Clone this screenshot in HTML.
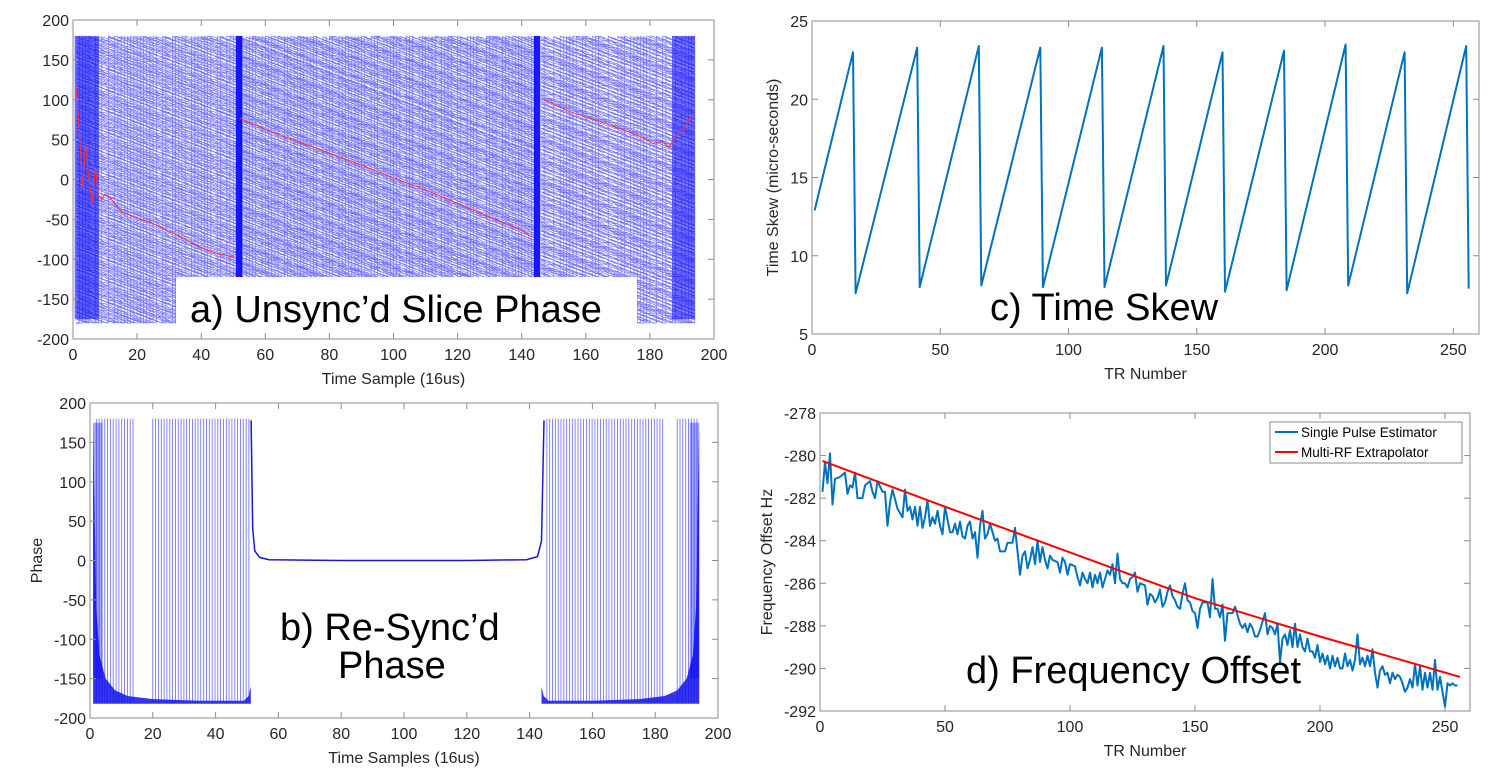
<!DOCTYPE html>
<html><head><meta charset="utf-8">
<style>
html,body{margin:0;padding:0;background:#fff;}
svg{display:block;font-family:"Liberation Sans",sans-serif;}
</style></head>
<body>
<svg id="fig" width="1500" height="776" viewBox="0 0 1500 776" xmlns="http://www.w3.org/2000/svg">
<rect width="1500" height="776" fill="#fff"/>
</svg>
<script>
// ---------- data ----------
const redAX1=[1,2,3,4,5,6,7,8,9,10,12,15,20,25,30,35,40,45,50];
const redAY1=[115,60,-10,45,0,-30,15,-20,-25,-18,-25,-40,-48,-55,-65,-75,-85,-93,-97];
const redAX2=[52,60,70,80,90,100,110,120,130,140,143];
const redAY2=[77,63,48,33,18,2,-13,-30,-47,-64,-72];
const redAX3=[147,155,165,172,178,181,184,186,188,190,193];
const redAY3=[100,85,72,62,52,45,48,40,55,60,80];
const segStartA=[1,52,146];
const segEndA=[51,144,194];
const segSlopeA=[-1.6,-1.64,-1.6];
const lineCountA=[230,260,230];
const trC=[1,16,17,41,42,65,66,89,90,113,114,137,138,160,161,184,185,208,209,231,232,255,256];
const skewC=[12.9,23.0,7.6,23.3,8.0,23.4,8.1,23.3,8.0,23.3,8.0,23.4,8.1,23.0,7.7,23.1,7.8,23.5,8.1,23.0,7.6,23.4,7.9];
const xTicksC=[0,50,100,150,200,250];
const yTicksC=[5,10,15,20,25];
const trD=[1,2,3,4,5,6,8,10,11,12,13,14,15,17,18,20,21,22,23,25,26,27,28,29,31,33,34,35,36,37,38,39,40,41,42,43,44,45,46,47,48,49,50,52,53,54,55,56,57,58,59,60,61,62,63,64,65,66,67,68,69,70,71,72,74,75,77,78,79,80,81,82,83,84,85,86,87,88,89,90,91,92,93,95,96,97,98,99,100,102,103,104,105,106,107,108,109,110,111,112,113,115,116,117,118,119,120,121,122,123,124,125,126,127,128,130,131,132,133,134,135,136,137,138,139,140,141,142,143,144,145,146,147,148,149,150,151,152,153,155,156,157,158,159,160,161,162,163,164,165,166,167,168,169,170,171,172,173,174,175,176,177,178,179,180,181,182,183,184,185,186,187,188,189,190,191,192,193,194,195,196,197,198,199,200,201,202,203,204,205,206,207,208,209,210,211,212,213,214,215,216,217,218,219,220,221,222,223,224,225,226,227,228,229,230,231,232,233,234,235,236,237,238,239,240,241,242,243,244,245,246,247,248,249,250,251,252,253,254,255];
const freqD=[-281.7,-280.3,-281.3,-279.9,-282.3,-281.1,-281.0,-280.8,-281.8,-281.4,-281.5,-280.8,-282.0,-282.0,-281.4,-281.2,-281.7,-282.0,-281.2,-281.7,-281.7,-283.3,-282.2,-281.6,-282.5,-282.9,-281.6,-282.6,-282.4,-283.0,-282.4,-283.3,-282.4,-283.4,-282.9,-282.1,-283.3,-282.9,-283.2,-282.6,-283.3,-283.7,-282.4,-283.6,-283.6,-283.2,-283.7,-283.1,-283.8,-283.9,-283.3,-283.1,-283.9,-283.6,-284.8,-283.3,-282.6,-283.9,-283.7,-283.2,-283.6,-284.0,-283.9,-284.5,-284.5,-284.1,-284.1,-283.4,-284.5,-285.6,-284.7,-284.5,-285.3,-284.9,-284.3,-285.1,-284.0,-285.0,-284.3,-284.9,-285.3,-284.7,-284.9,-285.0,-285.5,-284.8,-285.0,-285.6,-285.1,-285.2,-285.7,-286.1,-285.5,-285.8,-286.0,-285.5,-286.2,-285.6,-286.0,-285.5,-286.2,-285.4,-285.6,-285.1,-286.0,-284.6,-285.8,-286.0,-286.0,-286.2,-285.8,-285.7,-285.5,-286.4,-286.0,-286.1,-287.0,-286.5,-286.6,-286.9,-286.7,-286.3,-287.1,-286.9,-286.4,-286.1,-286.6,-286.8,-287.1,-287.2,-286.5,-286.0,-286.8,-286.9,-287.3,-287.4,-288.1,-287.2,-286.9,-286.9,-287.6,-285.8,-287.2,-287.2,-287.6,-287.0,-288.7,-287.4,-287.4,-287.4,-287.1,-287.5,-287.9,-288.1,-287.9,-288.3,-287.9,-288.1,-288.5,-288.5,-288.2,-287.8,-287.4,-288.4,-288.0,-288.1,-288.4,-287.9,-289.7,-288.6,-288.4,-288.9,-288.2,-289.0,-287.9,-289.0,-288.4,-289.0,-289.2,-288.6,-289.2,-289.2,-289.5,-288.9,-289.7,-289.3,-289.8,-289.4,-290.0,-289.4,-289.9,-289.5,-290.0,-290.0,-289.3,-289.9,-289.6,-290.1,-289.6,-288.4,-289.8,-289.5,-289.9,-289.4,-289.9,-289.1,-290.2,-290.9,-290.1,-289.9,-290.3,-290.2,-290.7,-290.2,-290.5,-290.3,-290.4,-290.7,-291.1,-290.9,-290.5,-290.9,-289.8,-290.8,-289.9,-291.0,-290.2,-290.9,-290.2,-291.0,-289.6,-291.0,-290.4,-291.1,-291.8,-290.7,-290.8,-290.7,-290.8,-290.8];
const trR=[1,50,100,150,200,256];
const freqR=[-280.25,-282.4,-284.55,-286.7,-288.5,-290.4];
const xTicksD=[0,50,100,150,200,250];
const yTicksD=[-292,-290,-288,-286,-284,-282,-280,-278];
const xTicksAB=[0,20,40,60,80,100,120,140,160,180,200];
const yTicksAB=[-200,-150,-100,-50,0,50,100,150,200];

// ---------- helpers ----------
const NS='http://www.w3.org/2000/svg';
const fig=document.getElementById('fig');
function el(tag,attrs,parent){const e=document.createElementNS(NS,tag);for(const k in attrs)e.setAttribute(k,attrs[k]);(parent||fig).appendChild(e);return e;}
function scale(d0,d1,r0,r1){return v=>r0+(v-d0)/(d1-d0)*(r1-r0);}
function pathFrom(xs,ys,sx,sy){let d='';for(let i=0;i<xs.length;i++)d+=(i?'L':'M')+sx(xs[i]).toFixed(1)+' '+sy(ys[i]).toFixed(1);return d;}

function axes(name,L,R,T,B,sx,sy,xt,yt,xlab,ylab,ylx){
  const g=el('g',{});
  
  
  const fr=el('rect',{x:L,y:T,width:R-L,height:B-T,fill:'none',stroke:'#8c8c8c','stroke-width':1},g);
  
  
  xt.forEach(v=>{const x=sx(v);
    el('line',{x1:x,x2:x,y1:B,y2:B-6,stroke:'#8c8c8c'},g);
    el('line',{x1:x,x2:x,y1:T,y2:T+6,stroke:'#8c8c8c'},g);
    const t=el('text',{x:x,y:B+21,'text-anchor':'middle','font-size':16,fill:'#262626'},g);
    t.textContent=v;
    
    
  });
  yt.forEach(v=>{const y=sy(v);
    el('line',{x1:L,x2:L+6,y1:y,y2:y,stroke:'#8c8c8c'},g);
    el('line',{x1:R,x2:R-6,y1:y,y2:y,stroke:'#8c8c8c'},g);
    const t=el('text',{x:L-4,y:y+6,'text-anchor':'end','font-size':16,fill:'#262626'},g);
    t.textContent=v;
    
    
  });
  if(xlab){const t=el('text',{x:(L+R)/2,y:B+45,'text-anchor':'middle','font-size':16,fill:'#262626'},g);t.textContent=xlab;
    
    }
  if(ylab){const cy=(T+B)/2;const t=el('text',{x:ylx,y:cy,'text-anchor':'middle','font-size':16,fill:'#262626',transform:`rotate(-90 ${ylx} ${cy})`},g);t.textContent=ylab;
    
    }
  return g;
}
function bigLabel(name,txt,x,y,size){const t=el('text',{x:x,y:y,'font-size':size,fill:'#000'});t.textContent=txt;
  
  return t;}

// ---------- panel a ----------
(function(){
  const L=73,R=714,T=20,B=339;
  const sx=scale(0,200,L,R), sy=scale(-200,200,B,T);
  const g=el('g',{});
  
  
  const jit=[0.3,-0.7,0.5,0.1,-0.4,0.8,-0.2,0.6,-0.9,0.2,0.4,-0.5,0.7,-0.1,-0.6,0.9,-0.3];
  let d='';
  for(let s=0;s<segStartA.length;s++){
    const n=lineCountA[s];
    for(let k=0;k<n;k++){
      let ph=-180+360*k/n+jit[k%17]*4;
      let x=segStartA[s];
      d+='M'+sx(x).toFixed(1)+' '+sy(ph).toFixed(1);
      while(x<segEndA[s]){
        const nx=Math.min(segEndA[s],x+1);
        let np=ph+segSlopeA[s]*(nx-x)+jit[(k+Math.round(nx))%17]*1.5;
        if(np<-180){np+=360;d+='L'+sx(nx).toFixed(1)+' '+sy(-180).toFixed(1)+'L'+sx(nx).toFixed(1)+' '+sy(180).toFixed(1);}
        d+='L'+sx(nx).toFixed(1)+' '+sy(np).toFixed(1);
        x=nx;ph=np;
      }
    }
  }
  el('path',{d:d,fill:'none',stroke:'rgba(0,0,255,0.55)','stroke-width':0.7},g);
  [[0.5,8,0.55],[187,194,0.5],[50.8,52.8,0.9],[143.8,145.8,0.9]].forEach(b=>{
    const r=el('rect',{x:sx(b[0]),y:sy(180),width:sx(b[1])-sx(b[0]),height:sy(-175)-sy(180),fill:'#0000ff','fill-opacity':b[2]},g);
    
    
  });
  [[redAX1,redAY1],[redAX2,redAY2],[redAX3,redAY3]].forEach(p=>{
    const r=el('path',{d:pathFrom(p[0],p[1],sx,sy),fill:'none',stroke:'#ff3030','stroke-width':1});
    
    
  });
  axes('panel-a',L,R,T,B,sx,sy,xTicksAB,yTicksAB,'Time Sample (16us)',null,0);
  const box=el('rect',{x:176,y:277,width:461,height:47,fill:'#fff'});
  
  
  bigLabel('panel-a-title',"a) Unsync’d Slice Phase",190,322,38);
})();

// ---------- panel b ----------
(function(){
  const L=90,R=718,T=403,B=718;
  const sx=scale(0,200,L,R), sy=scale(-200,200,B,T);
  const g=el('g',{});
  
  
  let d='';
  const regions=[[2,14.5],[20,51],[145.5,183],[187,193.5]];
  regions.forEach(r=>{for(let x=r[0];x<=r[1];x+=0.9){d+='M'+sx(x).toFixed(1)+' '+sy(-180).toFixed(1)+'V'+sy(180).toFixed(1);}});
  el('path',{d:d,fill:'none',stroke:'rgba(40,40,255,0.7)','stroke-width':0.8},g);
  const bandL=[[1,175],[2,-60],[3,-120],[5,-150],[8,-165],[12,-172],[20,-176],[35,-178],[49,-178],[50.5,-172],[51.2,-160],[51.2,-182],[1,-182]];
  const bandR=bandL.map(p=>[195-p[0],p[1]]);
  [bandL,bandR].forEach(b=>{
    const p=el('path',{d:pathFrom(b.map(q=>q[0]),b.map(q=>q[1]),sx,sy)+'Z',fill:'#1010ee','fill-opacity':0.85},g);
    
    
  });
  [[1,4],[191,194]].forEach(b=>{el('rect',{x:sx(b[0]),y:sy(175),width:sx(b[1])-sx(b[0]),height:sy(-150)-sy(175),fill:'#0000ff','fill-opacity':0.35},g);});
  const mx=[51.3,51.8,52.5,54,57,80,120,139,142.5,143.8,144.6], my=[178,40,12,4,1,0,0,1,5,25,178];
  const m=el('path',{d:pathFrom(mx,my,sx,sy),fill:'none',stroke:'#1a1acc','stroke-width':1.5},g);
  
  
  axes('panel-b',L,R,T,B,sx,sy,xTicksAB,yTicksAB,'Time Samples (16us)','Phase',42);
  bigLabel('panel-b-title-line1',"b) Re-Sync’d",280,640,38);
  bigLabel('panel-b-title-line2',"Phase",338,678,38);
})();

// ---------- panel c ----------
(function(){
  const L=812,R=1479,T=21,B=334;
  const sx=scale(0,260,L,R), sy=scale(5,25,B,T);
  axes('panel-c',L,R,T,B,sx,sy,xTicksC,yTicksC,'TR Number','Time Skew (micro-seconds)',778);
  const p=el('path',{d:pathFrom(trC,skewC,sx,sy),fill:'none',stroke:'#0072BD','stroke-width':2,'stroke-linejoin':'round'});
  
  
  bigLabel('panel-c-title','c) Time Skew',990,320,38);
})();

// ---------- panel d ----------
(function(){
  const L=820,R=1470,T=413,B=711;
  const sx=scale(0,260,L,R), sy=scale(-292,-278,B,T);
  axes('panel-d',L,R,T,B,sx,sy,xTicksD,yTicksD,'TR Number','Frequency Offset Hz',772);
  const p=el('path',{d:pathFrom(trD,freqD,sx,sy),fill:'none',stroke:'#0072BD','stroke-width':2,'stroke-linejoin':'round'});
  
  
  const r=el('path',{d:pathFrom(trR,freqR,sx,sy),fill:'none',stroke:'#ff0000','stroke-width':2});
  
  
  const lg=el('g',{});
  
  
  el('rect',{x:1270,y:422,width:192,height:41,fill:'#fff',stroke:'#8c8c8c'},lg);
  el('line',{x1:1275,x2:1298,y1:432,y2:432,stroke:'#0072BD','stroke-width':2},lg);
  el('line',{x1:1275,x2:1298,y1:452,y2:452,stroke:'#ff0000','stroke-width':2},lg);
  const t1=el('text',{x:1301,y:437,'font-size':13.5,fill:'#000'},lg);t1.textContent='Single Pulse Estimator';
  
  
  const t2=el('text',{x:1301,y:457,'font-size':13.5,fill:'#000'},lg);t2.textContent='Multi-RF Extrapolator';
  
  
  bigLabel('panel-d-title','d) Frequency Offset',966,683,38);
})();
</script>
</body></html>
